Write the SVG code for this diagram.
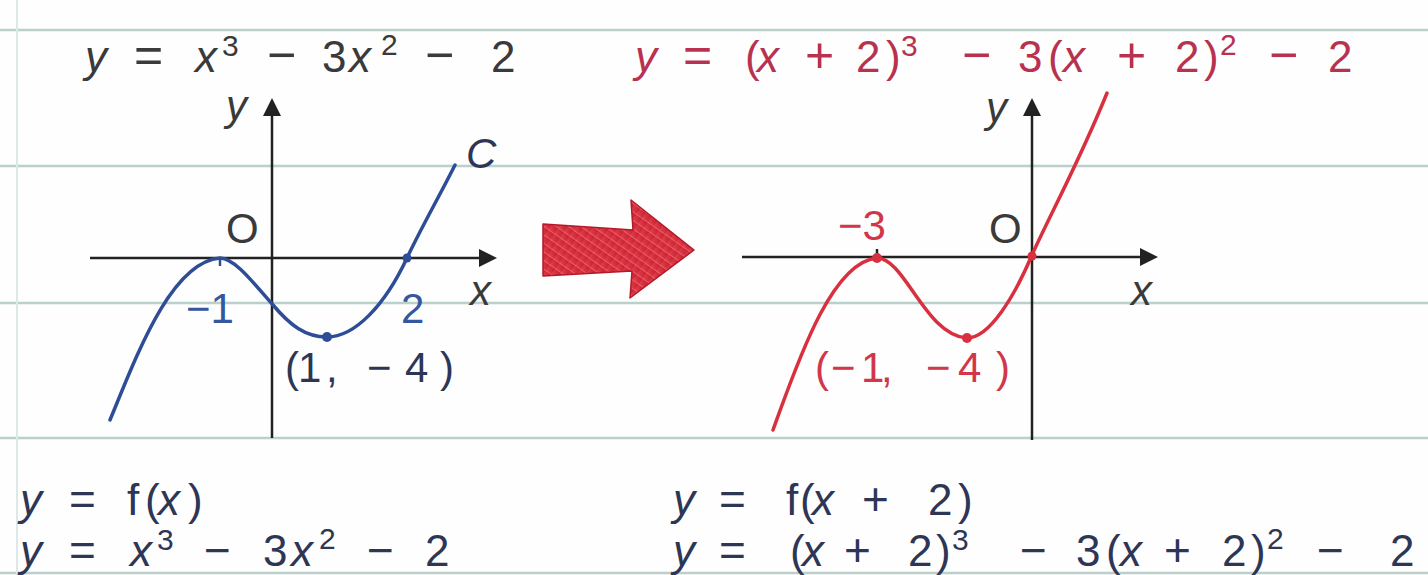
<svg xmlns="http://www.w3.org/2000/svg" width="1428" height="575" viewBox="0 0 1428 575">
<style>
text{font-family:"Liberation Sans",Arial,sans-serif;font-size:44px}
.i{font-style:italic}
.sup{font-size:30px}
.op{font-size:50px}
.opb{font-size:46px}
.lbl{font-size:42px}
.dark{fill:#3a3a3a}
.crim{fill:#b8324f}
.navy{fill:#2e3656}
.blue{fill:#3557a0}
.red{fill:#d2364b}
.rule{stroke:#b9d0cb;stroke-width:2.5}
.axis{stroke:#222;stroke-width:2.5;fill:none}
.head{fill:#222}
</style>
<defs>
<linearGradient id="ag" x1="0" y1="0" x2="1" y2="1">
<stop offset="0" stop-color="#e8434f"/>
<stop offset="1" stop-color="#c4202e"/>
</linearGradient>
<pattern id="hatch" width="7" height="7" patternUnits="userSpaceOnUse" patternTransform="rotate(-55)">
<rect width="7" height="7" fill="url(#ag)"/>
<line x1="0" y1="0" x2="0" y2="7" stroke="#f47a82" stroke-width="1.6" opacity="0.7"/>
</pattern>
</defs>
<rect width="1428" height="575" fill="#fefefe"/>
<g id="paper">
<line class="rule" x1="0" y1="30" x2="1428" y2="30"/>
<line class="rule" x1="0" y1="166" x2="1428" y2="166"/>
<line class="rule" x1="0" y1="303" x2="1428" y2="303"/>
<line class="rule" x1="0" y1="438" x2="1428" y2="438"/>
<line class="rule" x1="0" y1="573" x2="1428" y2="573"/>
<line x1="17" y1="0" x2="17" y2="575" stroke="#dde9e6" stroke-width="2"/>
</g>
<g id="formula-top-left" class="dark">
<text><tspan class="i" x="85" y="72">y</tspan><tspan class="op" x="134" y="72">=</tspan><tspan class="i" x="195" y="72">x</tspan><tspan class="sup" x="222" y="56">3</tspan><tspan class="op" x="267" y="72">−</tspan><tspan x="322" y="72">3</tspan><tspan class="i" x="349" y="72">x</tspan><tspan class="sup" x="381" y="55">2</tspan><tspan class="op" x="425" y="72">−</tspan><tspan x="491" y="72">2</tspan></text>
</g>
<g id="formula-top-right" class="crim">
<text><tspan class="i" x="635" y="72">y</tspan><tspan class="op" x="683" y="72">=</tspan><tspan x="745" y="72">(</tspan><tspan class="i" x="757" y="72">x</tspan><tspan class="op" x="805" y="72">+</tspan><tspan x="856" y="72">2</tspan><tspan x="886" y="72">)</tspan><tspan class="sup" x="901" y="56">3</tspan><tspan class="op" x="962" y="72">−</tspan><tspan x="1018" y="72">3</tspan><tspan x="1048" y="72">(</tspan><tspan class="i" x="1063" y="72">x</tspan><tspan class="op" x="1117" y="72">+</tspan><tspan x="1175" y="72">2</tspan><tspan x="1204" y="72">)</tspan><tspan class="sup" x="1220" y="55">2</tspan><tspan class="op" x="1269" y="72">−</tspan><tspan x="1328" y="72">2</tspan></text>
</g>
<g id="graph-left">
<line class="axis" x1="90" y1="258" x2="482" y2="258"/>
<polygon class="head" points="497,258 479,249 479,267"/>
<line class="axis" x1="272" y1="438" x2="272" y2="113"/>
<polygon class="head" points="272,98 263,116 281,116"/>
<path d="M110,420 C135,360 170,262 220,258 C235,258 255,285 273,305 C290,325 305,337 327,337 C355,337 385,305 407,258 C420,230 440,195 455,165" fill="none" stroke="#2f4d96" stroke-width="3.5" stroke-linecap="round"/>
<line x1="220" y1="258" x2="220" y2="266" stroke="#2f4d96" stroke-width="2.5"/>
<circle cx="327" cy="337" r="5" fill="#2f4d96"/>
<circle cx="407" cy="258" r="4.5" fill="#2f4d96"/>
<text class="lbl i dark" x="226" y="120">y</text>
<text class="lbl dark" x="226" y="243">O</text>
<text class="lbl i dark" x="470" y="305">x</text>
<text class="lbl i navy" x="466" y="168">C</text>
<text class="lbl blue" x="186" y="323">−1</text>
<text class="lbl blue" x="401" y="323">2</text>
<text class="lbl navy" x="285 298 326 367 405 440" y="382">(1,−4)</text>
</g>
<g id="connectors">
<polygon id="shift-arrow" points="543,224 633,230 631,200 694,250 630,298 632,271 543,276" fill="url(#hatch)" stroke="#b3192a" stroke-width="1.5" stroke-linejoin="round"/>
</g>
<g id="graph-right">
<line class="axis" x1="742" y1="257" x2="1143" y2="257"/>
<polygon class="head" points="1158,257 1140,248 1140,266"/>
<line class="axis" x1="1032" y1="440" x2="1032" y2="113"/>
<polygon class="head" points="1032,98 1023,116 1041,116"/>
<path d="M773,430 C795,370 830,262 877,258 C905,258 925,335 967,338 C990,338 1015,295 1032,255 C1050,215 1080,160 1107,93" fill="none" stroke="#d9303f" stroke-width="3.5" stroke-linecap="round"/>
<line x1="877" y1="249" x2="877" y2="258" stroke="#222" stroke-width="2.5"/>
<circle cx="877" cy="258" r="5" fill="#d9303f"/>
<circle cx="967" cy="338" r="5" fill="#d9303f"/>
<circle cx="1032" cy="256" r="4.5" fill="#d9303f"/>
<text class="lbl i dark" x="986" y="122">y</text>
<text class="lbl dark" x="989" y="243">O</text>
<text class="lbl i dark" x="1131" y="305">x</text>
<text class="lbl red" x="838" y="240">−3</text>
<text class="lbl red" x="815 831 861 881 926 958 996" y="382">(−1,−4)</text>
</g>
<g id="formula-bottom-left" class="navy">
<text><tspan class="i" x="20" y="515">y</tspan><tspan class="opb" x="69" y="515">=</tspan><tspan x="127" y="515">f</tspan><tspan x="145" y="515">(</tspan><tspan class="i" x="158" y="515">x</tspan><tspan x="188" y="515">)</tspan></text>
<text><tspan class="i" x="20" y="566">y</tspan><tspan class="opb" x="69" y="566">=</tspan><tspan class="i" x="130" y="566">x</tspan><tspan class="sup" x="157" y="550">3</tspan><tspan class="opb" x="204" y="566">−</tspan><tspan x="263" y="566">3</tspan><tspan class="i" x="291" y="566">x</tspan><tspan class="sup" x="319" y="549">2</tspan><tspan class="opb" x="367" y="566">−</tspan><tspan x="425" y="566">2</tspan></text>
</g>
<g id="formula-bottom-right" class="navy">
<text><tspan class="i" x="673" y="515">y</tspan><tspan class="opb" x="719" y="515">=</tspan><tspan x="786" y="515">f</tspan><tspan x="800" y="515">(</tspan><tspan class="i" x="812" y="515">x</tspan><tspan class="opb" x="862" y="515">+</tspan><tspan x="928" y="515">2</tspan><tspan x="958" y="515">)</tspan></text>
<text><tspan class="i" x="673" y="566">y</tspan><tspan class="opb" x="719" y="566">=</tspan><tspan x="790" y="566">(</tspan><tspan class="i" x="802" y="566">x</tspan><tspan class="opb" x="844" y="566">+</tspan><tspan x="908" y="566">2</tspan><tspan x="936" y="566">)</tspan><tspan class="sup" x="952" y="550">3</tspan><tspan class="opb" x="1020" y="566">−</tspan><tspan x="1076" y="566">3</tspan><tspan x="1106" y="566">(</tspan><tspan class="i" x="1120" y="566">x</tspan><tspan class="opb" x="1164" y="566">+</tspan><tspan x="1222" y="566">2</tspan><tspan x="1251" y="566">)</tspan><tspan class="sup" x="1267" y="549">2</tspan><tspan class="opb" x="1317" y="566">−</tspan><tspan x="1390" y="566">2</tspan></text>
</g>
</svg>
